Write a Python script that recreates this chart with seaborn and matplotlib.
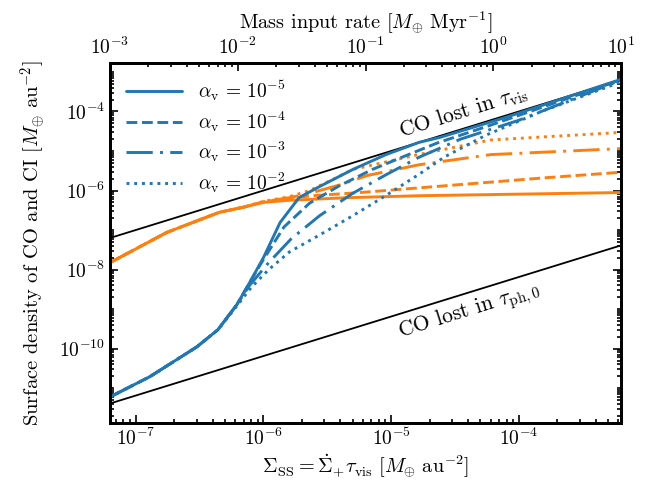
import numpy as np
import pandas as pd
import seaborn as sns
import matplotlib
matplotlib.use("Agg")
import matplotlib.pyplot as plt
from matplotlib.ticker import FixedLocator, LogLocator, LogFormatterSciNotation, NullFormatter

sns.set_style("ticks")
plt.rcParams["font.family"] = "serif"
plt.rcParams["font.serif"] = ["cmr10"]
plt.rcParams["mathtext.fontset"] = "cm"
plt.rcParams["axes.formatter.use_mathtext"] = True
plt.rcParams["font.size"] = 14
for k in ["axes.edgecolor", "text.color", "axes.labelcolor", "xtick.color", "ytick.color"]:
    plt.rcParams[k] = "black"

# values (Sigma_SS on x, surface density on y)
alphas = ["10^{-5}", "10^{-4}", "10^{-3}", "10^{-2}"]

co_x = [
    [6.3e-8, 1.29e-7, 3.0e-7, 4.4e-7, 6.2e-7, 7.8e-7, 1.0e-6, 1.35e-6, 1.9e-6, 2.75e-6, 5.0e-6, 9.1e-6, 1.66e-5, 2.4e-5, 7.9e-5, 6.3e-4],
    [6.3e-8, 1.29e-7, 3.0e-7, 4.4e-7, 6.2e-7, 7.8e-7, 1.0e-6, 1.45e-6, 2.3e-6, 3.9e-6, 7.1e-6, 1.3e-5, 2.3e-5, 6.0e-5, 6.3e-4],
    [6.3e-8, 1.29e-7, 3.0e-7, 4.4e-7, 6.2e-7, 7.8e-7, 1.1e-6, 1.65e-6, 2.75e-6, 5.0e-6, 9.1e-6, 1.66e-5, 3.5e-5, 1.0e-4, 6.3e-4],
    [6.3e-8, 1.29e-7, 3.0e-7, 4.4e-7, 6.2e-7, 8.0e-7, 1.1e-6, 1.6e-6, 2.75e-6, 5.0e-6, 9.1e-6, 1.66e-5, 2.6e-5, 5.5e-5, 1.5e-4, 6.3e-4],
]
co_y = [
    [6.0e-12, 1.95e-11, 1.1e-10, 3.0e-10, 1.3e-9, 4.7e-9, 2.0e-8, 1.55e-7, 6.6e-7, 1.26e-6, 3.4e-6, 8.1e-6, 1.66e-5, 2.2e-5, 7.1e-5, 6.5e-4],
    [6.0e-12, 1.95e-11, 1.1e-10, 3.0e-10, 1.3e-9, 4.7e-9, 1.8e-8, 1.2e-7, 4.8e-7, 1.3e-6, 3.4e-6, 7.6e-6, 1.6e-5, 4.5e-5, 6.3e-4],
    [6.0e-12, 1.95e-11, 1.1e-10, 3.0e-10, 1.3e-9, 4.0e-9, 1.5e-8, 6.0e-8, 2.3e-7, 8.5e-7, 2.5e-6, 7.0e-6, 2.0e-5, 6.0e-5, 6.2e-4],
    [6.0e-12, 1.95e-11, 1.1e-10, 3.0e-10, 1.2e-9, 3.5e-9, 1.0e-8, 2.8e-8, 7.5e-8, 2.3e-7, 7.5e-7, 2.6e-6, 7.0e-6, 2.5e-5, 1.0e-4, 5.6e-4],
]

ci_x = [
    [6.3e-8, 1.75e-7, 4.5e-7, 7.0e-7, 1.0e-6, 1.5e-6, 4.6e-6, 1.7e-5, 6.3e-4],
    [6.3e-8, 1.75e-7, 4.5e-7, 7.0e-7, 1.0e-6, 1.6e-6, 2.3e-6, 6.0e-6, 2.5e-5, 1.6e-4, 6.3e-4],
    [6.3e-8, 1.75e-7, 4.5e-7, 7.0e-7, 1.0e-6, 1.6e-6, 2.3e-6, 4.0e-6, 6.5e-6, 1.66e-5, 6.0e-5, 6.3e-4],
    [6.3e-8, 1.75e-7, 4.5e-7, 7.0e-7, 1.0e-6, 1.6e-6, 2.3e-6, 3.6e-6, 5.0e-6, 1.6e-5, 6.0e-5, 6.3e-4],
]
ci_y = [
    [1.5e-8, 8.7e-8, 2.8e-7, 3.8e-7, 5.0e-7, 5.6e-7, 6.6e-7, 7.4e-7, 8.9e-7],
    [1.5e-8, 8.7e-8, 2.8e-7, 3.8e-7, 5.2e-7, 6.3e-7, 7.3e-7, 9.0e-7, 1.3e-6, 2.1e-6, 2.9e-6],
    [1.5e-8, 8.7e-8, 2.8e-7, 3.8e-7, 5.2e-7, 6.6e-7, 8.5e-7, 1.4e-6, 2.4e-6, 4.5e-6, 8.1e-6, 1.15e-5],
    [1.5e-8, 8.7e-8, 2.8e-7, 3.8e-7, 5.3e-7, 7.0e-7, 1.0e-6, 2.0e-6, 3.4e-6, 8.0e-6, 1.9e-5, 2.95e-5],
]

sigma_edge = [6.3e-8, 6.3e-4]
vis_ratio = 1.0      # CO lost in tau_vis: Sigma = Sigma_SS
ph_ratio = 6.5e-5    # CO lost in tau_ph,0
ytick_vals = [1e-10, 1e-8, 1e-6, 1e-4]

styles = ["-", "--", (0, (9, 2.5, 1, 2.5)), ":"]
blue = "#1f77b4"
orange = "#ff7f0e"

fig = plt.figure(figsize=(6.51, 4.87), dpi=100)
ax = fig.add_axes([0.169, 0.131, 0.785, 0.740])
ax.set_xscale("log")
ax.set_yscale("log")

edge = np.array(sigma_edge)
sns.lineplot(x=edge, y=edge * vis_ratio, color="k", lw=1.3, ax=ax)
sns.lineplot(x=edge, y=edge * ph_ratio, color="k", lw=1.3, ax=ax)

for i in range(4):
    sns.lineplot(x=ci_x[i], y=ci_y[i], color=orange, lw=2.1, linestyle=styles[i], ax=ax)
for i in range(4):
    sns.lineplot(x=co_x[i], y=co_y[i], color=blue, lw=2.1, linestyle=styles[i],
                 label=r"$\alpha_{\rm v}\,=\,%s$" % alphas[i], ax=ax)

ax.set_xlim(6.3e-8, 6.3e-4)
ax.set_ylim(1.3e-12, 1.7e-3)
ax.yaxis.set_major_locator(FixedLocator(ytick_vals))
ax.yaxis.set_major_formatter(LogFormatterSciNotation(base=10))
ax.yaxis.set_minor_locator(LogLocator(base=10, subs=np.arange(1, 10), numticks=100))
ax.yaxis.set_minor_formatter(NullFormatter())
ax.set_xlabel(r"$\Sigma_{\rm SS} = \dot{\Sigma}_{+} \tau_{\rm vis}\ [M_{\oplus}\ {\rm au}^{-2}]$",
              labelpad=2, fontsize=14.6)
ax.set_ylabel(r"Surface density of CO and CI $[M_{\oplus}\ {\rm au}^{-2}]$",
              labelpad=8, fontsize=14.8)

ax.text(3.7e-5, 1.0e-4, r"CO lost in $\tau_{\rm vis}$", rotation=17.4,
        ha="center", va="center", fontsize=15.5)
ax.text(4.1e-5, 8.7e-10, r"CO lost in $\tau_{\rm ph,0}$", rotation=17.4,
        ha="center", va="center", fontsize=15.5)

ax.legend(loc="upper left", frameon=False, handlelength=2.9, fontsize=14,
          borderaxespad=0.4, labelspacing=0.32)

top = ax.twiny()
top.set_xscale("log")
top.set_xlim(1e-3, 1e1)
top.set_xlabel(r"Mass input rate $[M_{\oplus}\ {\rm Myr}^{-1}]$", fontsize=14.6, labelpad=5)

ax.tick_params(which="both", direction="in", width=1.2, right=True, top=False)
top.tick_params(which="both", direction="in", width=1.2)
for a in (ax, top):
    a.tick_params(which="major", length=6)
    a.tick_params(which="minor", length=3)
    for s in a.spines.values():
        s.set_linewidth(2.0)

fig.savefig("out.png", dpi=100)
